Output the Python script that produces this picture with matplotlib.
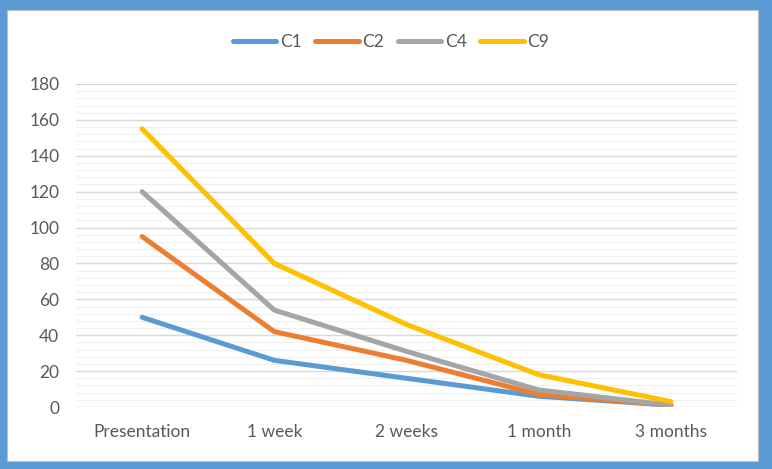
import numpy as np
import matplotlib.pyplot as plt
from matplotlib.patches import Rectangle
from matplotlib.ticker import MultipleLocator

categories = ["Presentation", "1 week", "2 weeks", "1 month", "3 months"]
c1 = [50, 26, 16, 6, 1]
c2 = [95, 42, 26, 7, 1]
c4 = [120, 54, 31, 9.5, 1]
c9 = [155, 80, 46, 18, 3]

series = [("C1", c1, "#5B9BD5"), ("C2", c2, "#ED7D31"),
          ("C4", c4, "#A5A5A5"), ("C9", c9, "#FFC000")]

plt.rcParams['font.family'] = ['Lato', 'DejaVu Sans']

fig = plt.figure(figsize=(7.72, 4.69), dpi=100)

# blue frame around the chart
fig.patches.append(Rectangle((0, 0), 1, 1, transform=fig.transFigure,
                             facecolor="#5B9BD5", edgecolor="none", zorder=-2))
fig.patches.append(Rectangle((7 / 772, 8 / 469), 751 / 772, 451 / 469,
                             transform=fig.transFigure, facecolor="white",
                             edgecolor="#BFBFBF", linewidth=0.8, zorder=-1))

ax = fig.add_axes([76 / 772, 62 / 469, 661 / 772, 323 / 469])
ax.set_facecolor("none")

x = np.arange(len(categories))
for name, vals, col in series:
    ax.plot(x, vals, color=col, linewidth=3.6, solid_capstyle="round",
            solid_joinstyle="round", label=name, zorder=3)

ax.set_xlim(-0.5, len(categories) - 0.5)
ax.set_ylim(0, 180)
ax.yaxis.set_major_locator(MultipleLocator(20))
ax.yaxis.set_minor_locator(MultipleLocator(4))
ax.grid(axis="y", which="major", color="#D9D9D9", linewidth=1.0)
ax.grid(axis="y", which="minor", color="#F0F0F0", linewidth=0.8)
ax.set_axisbelow(True)

ax.set_xticks(x)
ax.set_xticklabels(categories)
ax.tick_params(axis="both", which="both", length=0, labelsize=12.5, labelcolor="#595959")
ax.tick_params(axis="x", pad=12)
ax.tick_params(axis="y", pad=12)
for s in ax.spines.values():
    s.set_visible(False)

fig.legend(loc="center", bbox_to_anchor=(391 / 772, 1 - 42 / 469), ncol=4,
           frameon=False, fontsize=12.5, labelcolor="#595959",
           handlelength=2.5, handletextpad=0.2, columnspacing=0.8)

fig.savefig("out.png", dpi=100)
